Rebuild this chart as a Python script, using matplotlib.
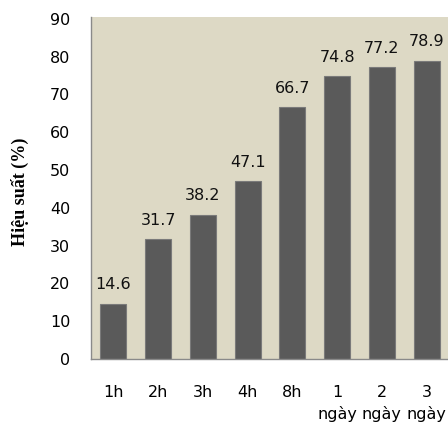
import matplotlib
matplotlib.use("Agg")
import matplotlib.pyplot as plt

categories = ["1h", "2h", "3h", "4h", "8h", "1\nngày", "2\nngày", "3\nngày"]
values = [14.6, 31.7, 38.2, 47.1, 66.7, 74.8, 77.2, 78.9]
yticks = [0, 10, 20, 30, 40, 50, 60, 70, 80, 90]

fig = plt.figure(figsize=(4.48, 4.25), dpi=100)
ax = fig.add_axes([91 / 448, 1 - 359 / 425, 358 / 448, 342 / 425])
ax.set_facecolor("#ddd9c5")

x = list(range(len(categories)))
ax.bar(x, values, width=0.58, color="#5a5a5a", edgecolor="#7a7a7a", linewidth=0.8)

for xi, v in zip(x, values):
    ax.text(xi, v + 3.0, f"{v:.1f}", ha="center", va="bottom", fontsize=11.5, color="#111111")

ax.set_xlim(-0.5, 7.5)
ax.set_ylim(0, 90.5)
ax.set_yticks(yticks)
ax.set_yticklabels([str(t) for t in yticks], fontsize=11.5)
ax.set_xticks(x)
ax.set_xticklabels(categories, fontsize=11.5, va="top", linespacing=1.45)
ax.tick_params(axis="y", length=0, pad=15)
ax.tick_params(axis="x", length=0, pad=19)

for side in ("top", "right"):
    ax.spines[side].set_visible(False)
for side in ("left", "bottom"):
    ax.spines[side].set_color("#8a8a8a")
    ax.spines[side].set_linewidth(1.0)

fig.text(20 / 448, 1 - 192 / 425, "Hiệu suất (%)", rotation=90, ha="center", va="center",
         fontsize=13, fontweight="bold", family="Liberation Serif")

fig.savefig("out.png", dpi=100)
